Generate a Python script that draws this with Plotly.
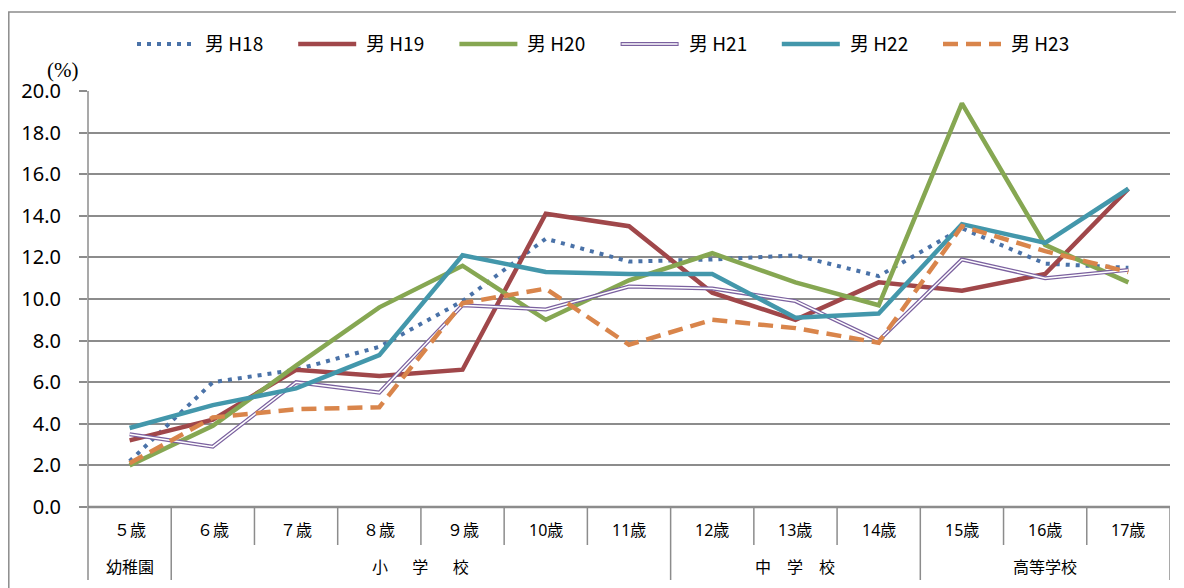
import plotly.graph_objects as go

ages = ["５歳", "６歳", "７歳", "８歳", "９歳", "10歳", "11歳", "12歳", "13歳", "14歳", "15歳", "16歳", "17歳"]
groups = ["幼稚園", "小　  学　  校", "中　学　校", "高等学校"]
group_spans = [(0, 0), (1, 6), (7, 9), (10, 12)]
series_names = ["男 H18", "男 H19", "男 H20", "男 H21", "男 H22", "男 H23"]

h18 = [2.2, 6.0, 6.6, 7.7, 9.9, 12.9, 11.8, 11.9, 12.1, 11.1, 13.4, 11.7, 11.5]
h19 = [3.2, 4.2, 6.6, 6.3, 6.6, 14.1, 13.5, 10.3, 9.0, 10.8, 10.4, 11.2, 15.3]
h20 = [2.0, 3.9, 6.8, 9.6, 11.6, 9.0, 10.9, 12.2, 10.8, 9.7, 19.4, 12.6, 10.8]
h21 = [3.5, 2.9, 6.0, 5.5, 9.7, 9.5, 10.6, 10.5, 9.9, 8.0, 11.9, 11.0, 11.4]
h22 = [3.8, 4.9, 5.7, 7.3, 12.1, 11.3, 11.2, 11.2, 9.1, 9.3, 13.6, 12.7, 15.3]
h23 = [2.1, 4.3, 4.7, 4.8, 9.8, 10.5, 7.8, 9.0, 8.6, 7.9, 13.5, 12.3, 11.3]

# page has an 8px body margin; work in reference pixel coordinates and shift
OFF = 8
W, H = 1176, 580
L = 88 - OFF
T = 91 - OFF
R = W - (1170 - OFF)
B = H - (507 - OFF)
PW, PH = W - L - R, H - T - B

def px_x(p):
    return (p - OFF - L) / PW

def px_y(p):
    return (H - B - (p - OFF)) / PH

styles = [
    dict(color="#4a72a8", width=4, dash="4px,6px"),
    dict(color="#a0474a", width=4.5),
    dict(color="#86a752", width=4.5),
    dict(color="#7b619f", width=4),
    dict(color="#4397ab", width=4.5),
    dict(color="#d9854b", width=4.5, dash="15px,8px"),
]
values = [h18, h19, h20, h21, h22, h23]

x = list(range(len(ages)))
fig = go.Figure()
for name, vals, st in zip(series_names, values, styles):
    fig.add_trace(go.Scatter(x=x, y=vals, mode="lines", name=name, line=st, showlegend=False))
    if name == "男 H21":
        fig.add_trace(go.Scatter(x=x, y=vals, mode="lines", name=name, showlegend=False,
                                 hoverinfo="skip", line=dict(color="#ffffff", width=1.5)))

shapes = []
# outer frame
shapes.append(dict(type="rect", xref="paper", yref="paper",
                   x0=px_x(8.8), x1=px_x(1184 + 20), y0=px_y(588 + 20), y1=px_y(12),
                   line=dict(color="#8c8c8c", width=1.5), fillcolor="rgba(0,0,0,0)", layer="below"))
# y axis line extended into the table
shapes.append(dict(type="line", xref="paper", yref="paper", x0=0, x1=0,
                   y0=px_y(580), y1=1, line=dict(color="#8c8c8c", width=1.5)))
# x axis baseline
shapes.append(dict(type="line", xref="paper", yref="paper", x0=0, x1=1,
                   y0=0, y1=0, line=dict(color="#8c8c8c", width=2.5)))
# table separators
group_bounds = {s[0] - 0.5 for s in group_spans[1:]} | {len(ages) - 0.5}
for i in range(len(ages)):
    b = i + 0.5
    bottom = 580 if b in group_bounds else 545
    shapes.append(dict(type="line", xref="x", yref="paper", x0=b, x1=b,
                       y0=px_y(bottom), y1=0, line=dict(color="#8c8c8c", width=1.5)))

annotations = []
# manual legend
for k, (name, st) in enumerate(zip(series_names, styles)):
    x0 = 137 + 161.2 * k
    shapes.append(dict(type="line", xref="paper", yref="paper",
                       x0=px_x(x0), x1=px_x(x0 + 58), y0=px_y(44), y1=px_y(44), line=st))
    if name == "男 H21":
        shapes.append(dict(type="line", xref="paper", yref="paper",
                           x0=px_x(x0 + 1), x1=px_x(x0 + 57), y0=px_y(44), y1=px_y(44),
                           line=dict(color="#ffffff", width=1.5)))
    annotations.append(dict(x=px_x(x0 + 66), y=px_y(43), xref="paper", yref="paper", text=name,
                            showarrow=False, xanchor="left", yanchor="middle",
                            font=dict(size=19, color="#000000", family="Noto Sans CJK JP")))

for i, a in enumerate(ages):
    annotations.append(dict(x=i, y=px_y(530), xref="x", yref="paper", text=a,
                            showarrow=False, yanchor="middle",
                            font=dict(size=16, color="#000000")))
for g, (s, e) in zip(groups, group_spans):
    annotations.append(dict(x=(s + e) / 2, y=px_y(567), xref="x", yref="paper", text=g,
                            showarrow=False, yanchor="middle",
                            font=dict(size=16, color="#000000")))
annotations.append(dict(x=px_x(62), y=px_y(70), xref="paper", yref="paper", text="(%)",
                        showarrow=False, xanchor="center", yanchor="middle",
                        font=dict(size=21, color="#000000", family="Liberation Serif")))

fig.update_layout(
    width=W, height=H,
    margin=dict(l=L, r=R, t=T, b=B, autoexpand=False),
    paper_bgcolor="white", plot_bgcolor="white",
    font=dict(family="Noto Sans, Noto Sans CJK JP", size=15, color="#000000"),
    showlegend=False,
    xaxis=dict(range=[-0.5, len(ages) - 0.5], showgrid=False, showticklabels=False,
               zeroline=False, showline=False, ticks="", fixedrange=True),
    yaxis=dict(range=[0, 20], dtick=2, tickformat=".1f", showgrid=True,
               gridcolor="#8c8c8c", gridwidth=1.5, zeroline=False, showline=False,
               ticks="outside", ticklen=8, tickcolor="#8c8c8c", tickwidth=1.5,
               ticklabelstandoff=14, tickfont=dict(size=20, family="Noto Sans")),
    shapes=shapes,
    annotations=annotations,
)

fig.write_html("out.html")
